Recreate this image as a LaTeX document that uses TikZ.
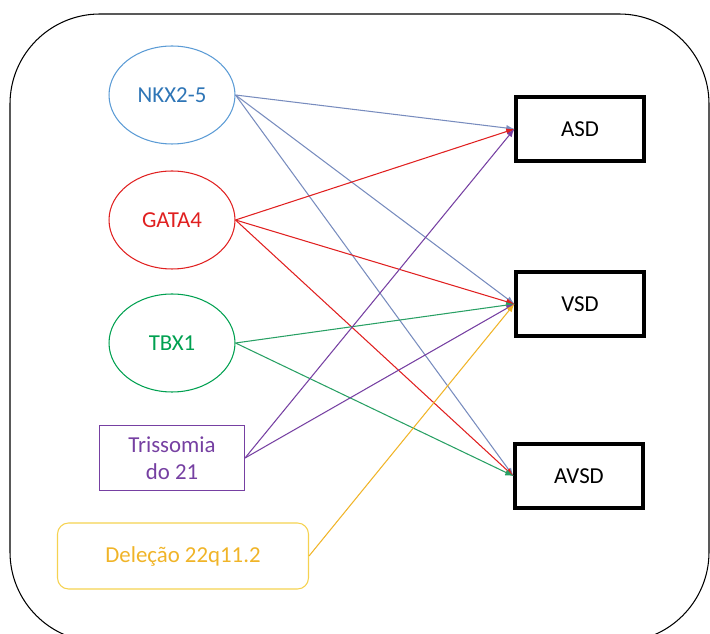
\documentclass[tikz,border=0pt]{standalone}
\usepackage{fontspec}
\setmainfont{Carlito}
\usepackage{xcolor}
\usepackage{tikz}
\usetikzlibrary{arrows,shapes.geometric}
\definecolor{nblue}{RGB}{46, 117, 182}
\definecolor{nblueOutl}{RGB}{91, 155, 213}
\definecolor{nblueLine}{RGB}{120, 140, 190}
\definecolor{gred}{RGB}{224, 32, 32}
\definecolor{tgreen}{RGB}{0, 160, 80}
\definecolor{tgreenLine}{RGB}{40, 160, 100}
\definecolor{tpurple}{RGB}{118, 64, 162}
\definecolor{dgold}{RGB}{240, 180, 40}
\definecolor{dgoldOutl}{RGB}{245, 210, 80}
\tikzset{>=latex}
\tikzset{
  gene/.style = {ellipse, minimum width = 2.52cm, minimum height = 1.96cm, line width = 0.6pt},
  defect/.style = {draw = black, line width = 1.9pt, minimum width = 2.56cm, minimum height = 1.28cm},
  link/.style = {->, line width = 0.6pt}
}

\begin{document}
\begin{tikzpicture}[x = 0.02cm, y = -0.02cm, font = \fontsize{13}{15.5}\selectfont]
  \useasboundingbox (0, 0) rectangle (710, 634);
  \clip (0, 0) rectangle (710, 634);
  \draw[line width = 0.6pt, rounded corners = 1.8cm] (10, 14) rectangle (709, 642);

  \node[gene, draw = nblueOutl, text = nblue] (nkx) at (172, 95){NKX2-5};
  \node[gene, draw = gred, text = gred] (gata) at (172, 220){GATA4};
  \node[gene, draw = tgreen, text = tgreen] (tbx) at (172, 343){TBX1};
  \node[draw = tpurple, text = tpurple, line width = 0.6pt, minimum width = 2.9cm, minimum height = 1.3cm, align = center] (tris) at (172, 458){Trissomia\\do 21};
  \node[draw = dgoldOutl, text = dgold, line width = 0.6pt, rounded corners = 0.22cm, minimum width = 5.02cm, minimum height = 1.32cm] (del) at (183, 556){Deleção 22q11.2};

  \node[defect] (asd) at (580, 129){ASD};
  \node[defect] (vsd) at (580, 304){VSD};
  \node[defect] (avsd) at (579, 476){AVSD};

  \draw[link, nblueLine] (nkx.east) -- (asd.west);
  \draw[link, nblueLine] (nkx.east) -- (vsd.west);
  \draw[link, nblueLine] (nkx.east) -- (avsd.west);
  \draw[link, gred] (gata.east) -- (asd.west);
  \draw[link, gred] (gata.east) -- (vsd.west);
  \draw[link, gred] (gata.east) -- (avsd.west);
  \draw[link, tgreenLine] (tbx.east) -- (vsd.west);
  \draw[link, tgreenLine] (tbx.east) -- (avsd.west);
  \draw[link, tpurple] (tris.east) -- (asd.west);
  \draw[link, tpurple] (tris.east) -- (vsd.west);
  \draw[link, dgold] (del.east) -- (vsd.west);
  \end{tikzpicture}
\end{document}
